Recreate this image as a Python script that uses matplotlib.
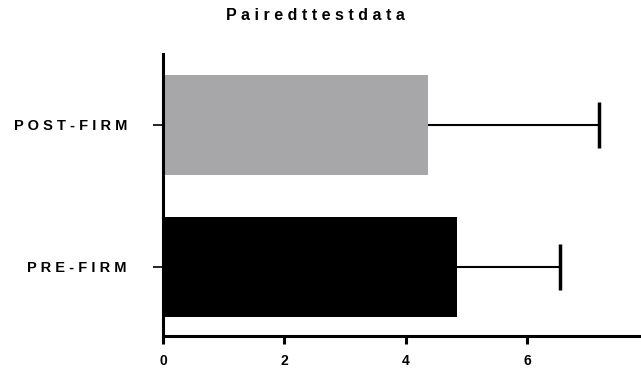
import matplotlib
matplotlib.use("Agg")
import matplotlib.pyplot as plt

categories = ["PRE-FIRM", "POST-FIRM"]
means = [4.84, 4.37]
errors = [1.70, 2.81]
colors = ["#000000", "#a7a7a9"]
xticks = [0, 2, 4, 6, 8]
title = "Paired t test data"

def spaced(s):
    return " ".join(ch for ch in s.replace(" ", ""))

plt.rcParams['font.family'] = ['Liberation Sans', 'DejaVu Sans']

fig = plt.figure(figsize=(6.41, 3.73), dpi=100)
ax = fig.add_axes([163/641, 37/373, 485.6/641, 282/373])

ypos = list(range(len(categories)))
ax.barh(ypos, means, height=0.7, color=colors)
ends = [m + e for m, e in zip(means, errors)]
ax.hlines(ypos, means, ends, color='black', linewidth=1.5)
ax.vlines(ends, [y - 0.16 for y in ypos], [y + 0.16 for y in ypos],
          color='black', linewidth=2.5)

ax.set_xlim(0, 8)
ax.set_ylim(-0.486, 1.5)
ax.set_yticks(ypos)
ax.set_yticklabels([spaced(c) for c in categories], fontsize=10.5, fontweight='bold')
ax.set_xticks(xticks)
ax.set_xticklabels([str(t) for t in xticks], fontsize=10, fontweight='bold')
for s in ['top', 'right']:
    ax.spines[s].set_visible(False)
for s in ['left', 'bottom']:
    ax.spines[s].set_linewidth(2.2)
ax.tick_params(axis='x', length=6, width=2.2, pad=7)
ax.tick_params(axis='y', length=7, width=1.2, pad=19)

fig.text(315/641, 1 - 15/373, spaced(title), ha='center', va='center',
         fontsize=11.5, fontweight='bold')

fig.savefig("out.png", dpi=100)
